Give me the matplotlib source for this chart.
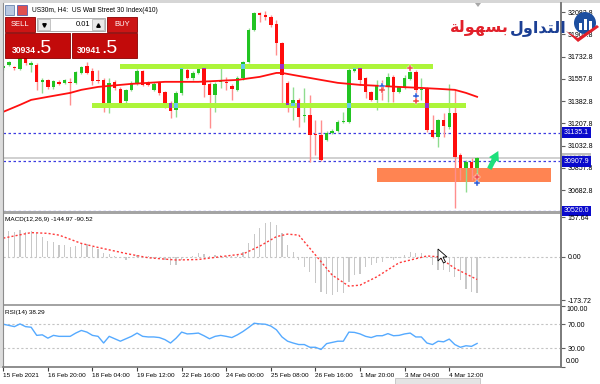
import numpy as np
import matplotlib
matplotlib.use('Agg')
import matplotlib.pyplot as plt
from matplotlib.patches import Rectangle, Circle, Polygon

plt.rcParams['font.family'] = ['Liberation Sans', 'DejaVu Sans']

# ---- price data (US30m, H4) ----
opens = [31645, 31667, 31651, 31635, 31725, 31665, 31670, 31535, 31550, 31490,
         31535, 31525, 31535, 31525, 31605, 31660, 31620, 31550, 31550, 31370,
         31535, 31480, 31380, 31470, 31525, 31620, 31525, 31470, 31525, 31455,
         31370, 31310, 31445, 31625, 31565, 31605, 31645, 31520, 31430, 31530,
         31535, 31500, 31470, 31565, 31690, 31942, 32075, 32060, 32045, 31990,
         31840, 31525, 31345, 31390, 31265, 31275, 31125, 31117, 31075, 31135,
         31150, 31215, 31220, 31620, 31645, 31565, 31455, 31392, 31505, 31495,
         31570, 31455, 31495, 31560, 31610, 31470, 31480, 31157, 31100, 31235,
         31180, 31290, 30955, 30860, 30905, 30860]
highs = [31670, 31700, 31660, 31730, 31740, 31700, 31680, 31565, 31560, 31550,
         31545, 31560, 31565, 31620, 31660, 31690, 31640, 31630, 31565, 31565,
         31550, 31490, 31480, 31540, 31635, 31630, 31540, 31530, 31540, 31465,
         31380, 31465, 31655, 31640, 31620, 31667, 31660, 31535, 31535, 31650,
         31575, 31520, 31580, 31700, 31955, 32085, 32083, 32090, 32060, 32020,
         31850, 31540, 31495, 31410, 31485, 31430, 31235, 31235, 31145, 31160,
         31235, 31300, 31640, 31670, 31660, 31575, 31465, 31550, 31550, 31605,
         31590, 31505, 31590, 31620, 31625, 31565, 31490, 31275, 31245, 31290,
         31520, 31470, 30975, 30920, 30935, 30945]
lows = [31630, 31660, 31630, 31625, 31670, 31610, 31470, 31445, 31480, 31480,
        31510, 31515, 31355, 31515, 31595, 31595, 31510, 31525, 31300, 31290,
        31470, 31360, 31370, 31460, 31510, 31500, 31500, 31460, 31430, 31330,
        31250, 31260, 31430, 31555, 31550, 31595, 31415, 31170, 31300, 31485,
        31470, 31390, 31460, 31550, 31680, 31930, 32005, 32020, 31965, 31745,
        31370, 31300, 31235, 31180, 31220, 30905, 30960, 30915, 31065, 31125,
        31140, 31210, 31210, 31610, 31510, 31410, 31380, 31315, 31390, 31375,
        31375, 31445, 31480, 31545, 31375, 31390, 31140, 31095, 31020, 31100,
        31160, 30545, 30765, 30670, 30765, 30725]
closes = [31655, 31690, 31643, 31720, 31680, 31680, 31535, 31550, 31495, 31540,
          31520, 31545, 31525, 31610, 31650, 31605, 31540, 31540, 31370, 31525,
          31485, 31370, 31470, 31525, 31620, 31510, 31510, 31520, 31445, 31370,
          31305, 31450, 31640, 31565, 31605, 31635, 31510, 31430, 31520, 31545,
          31525, 31480, 31565, 31690, 31942, 32075, 32060, 32045, 31980, 31840,
          31590, 31355, 31390, 31260, 31275, 31117, 31117, 30921, 31135, 31150,
          31220, 31225, 31628, 31645, 31550, 31455, 31392, 31500, 31475, 31570,
          31455, 31495, 31565, 31610, 31470, 31480, 31157, 31102, 31235, 31190,
          31290, 30945, 30860, 30905, 30860, 30934.5]

# moving average (red line), sampled at readable points
ma_bars = [0, 3, 5, 8, 12, 14, 17, 23, 29, 35, 42, 46, 49, 50, 52, 57, 60, 64,
           71, 75, 78, 81, 83, 85]
ma_vals = [31298, 31353, 31392, 31416, 31447, 31471, 31494, 31518, 31534, 31534,
           31549, 31573, 31604, 31604, 31588, 31549, 31526, 31510, 31494, 31486,
           31479, 31471, 31447, 31416]

price_ticks = [32082.8, 31907.8, 31732.8, 31557.8, 31382.8, 31207.8, 31032.8,
               30857.8, 30682.8]
blue_levels = [31135.1, 30907.9, 30520.0]
bid_price = 30934.5
ask_price = 30941.5

# support / resistance zones: (price low, price high, first bar, last bar)
zones = [(31633, 31673, 21.0, 77.1), (31332, 31371, 16.0, 83.0)]
orange_zone = (30746, 30858, 67.1, 98.2)

buy_bars = [68, 74, 85]
buy_prices = [31502, 31426, 30741]
sell_bars = [68, 73, 74, 85]
sell_prices = [31471, 31641, 31387, 30788]

# ---- MACD(12,26,9) ----
macd_hist = [74, 103, 100, 106, 100, 103, 93, 80, 64, 57, 46, 46, 37, 42, 51, 49,
             37, 29, 13, 9, 3, -4, -11, -3, 7, 3, 1, -4, -4, -13, -31, -31, -13,
             -4, 3, 16, 11, 3, 7, 7, 4, 4, 9, 17, 53, 90, 113, 133, 139, 126, 93,
             46, 20, -11, -42, -60, -103, -139, -148, -152, -139, -143, -99, -73,
             -69, -40, -33, -26, -20, -7, -11, -4, 7, 20, 16, 13, -7, -33, -53,
             -53, -60, -80, -93, -130, -140, -144.97]
sig_bars = [0, 5, 8, 10, 14, 17, 22, 26, 31, 35, 40, 43, 46, 49, 51, 53, 56, 59,
            62, 64, 67, 71, 76, 78, 81, 85]
sig_vals = [74, 96, 93, 86, 53, 37, 13, -4, -13, -11, 3, 11, 42, 80, 90, 86, 7,
            -73, -117, -113, -80, -24, 3, 0, -46, -90.52]

# ---- RSI(14) ----
rsi = [70, 68, 66, 70.5, 66, 65, 51.6, 52.5, 47, 51.6, 50, 50, 50, 55.4, 59.7, 57,
       51.6, 50, 39, 50, 46, 42, 46, 50, 55.4, 50, 49, 49, 48, 44.6, 39, 47, 57,
       54, 54.5, 55.4, 51, 46, 50, 51.6, 50, 48, 52.5, 58, 64.5, 71.6, 70.5, 70,
       67, 60.8, 49, 42, 39, 36.5, 36.5, 32, 32, 28.4, 38, 40, 42, 42, 57, 56.5,
       54, 50, 48, 51, 51, 54.5, 51, 51.6, 54, 55.4, 49, 49, 39, 36.5, 42, 41,
       45.5, 36.5, 32, 34.5, 33.5, 38.29]

time_labels = ['15 Feb 2021', '16 Feb 20:00', '18 Feb 04:00', '19 Feb 12:00',
               '22 Feb 16:00', '24 Feb 00:00', '25 Feb 08:00', '26 Feb 16:00',
               '1 Mar 20:00', '3 Mar 04:00', '4 Mar 12:00']

W, H = 600, 384
fig = plt.figure(figsize=(6, 3.84), dpi=100)
fig.patch.set_facecolor('white')


def px_axes(x0, y0, x1, y1, **kw):
    return fig.add_axes([x0 / W, 1 - y1 / H, (x1 - x0) / W, (y1 - y0) / H], **kw)


XLIM = (-0.05, 100.05)
FS = 5.0      # price scale labels
FS_T = 4.6    # time scale / indicator captions


def style_panel(a):
    a.set_xlim(*XLIM)
    for s in a.spines.values():
        s.set_visible(False)
    a.yaxis.tick_right()
    a.tick_params(axis='y', length=3, width=0.8, labelsize=FS, pad=1.8,
                  color='#606060', labelcolor='black')
    a.tick_params(axis='x', bottom=False, labelbottom=False)


# ================= main price panel =================
ax = px_axes(3, 3, 561, 211)
style_panel(ax)
ax.set_ylim(30518, 32154)

x = np.arange(len(opens))
o, h, l, c = (np.array(v, dtype=float) for v in (opens, highs, lows, closes))
up = c >= o
ax.vlines(x, l, h, colors=np.where(up, '#8FDC8F', '#FF8E8E'), lw=1, zorder=2)
body_lo = np.minimum(o, c)
body_h = np.maximum(np.abs(c - o), 8)
ax.bar(x, body_h, bottom=body_lo, width=0.62, lw=0, zorder=4,
       color=np.where(up, '#22C422', '#FF0C0C'))

for lo_z, hi_z, b0, b1 in zones:
    ax.add_patch(Rectangle((b0, lo_z), b1 - b0, hi_z - lo_z, fc='#ADF53A',
                           ec='none', zorder=3))
    for i in range(len(x)):
        if b0 <= i <= b1:
            a0 = max(body_lo[i], lo_z)
            a1 = min(body_lo[i] + body_h[i], hi_z)
            if a1 > a0:
                ax.bar(i, a1 - a0, bottom=a0, width=0.62, lw=0, zorder=5,
                       color='#62C8EC' if up[i] else '#9A2FC8')

lo_o, hi_o, b0, b1 = orange_zone
ax.add_patch(Rectangle((b0, lo_o), b1 - b0, hi_o - lo_o, fc='#FF8452', ec='none',
                       zorder=1))

ax.plot(ma_bars, ma_vals, color='#FF1010', lw=1.3, zorder=6)

ax.plot(buy_bars, buy_prices, ls='none', marker='P', ms=3.8, color='#2A5CD8',
        mec='white', mew=0.3, zorder=7)
ax.plot(sell_bars, sell_prices, ls='none', marker='P', ms=3.8, color='#F04848',
        mec='white', mew=0.3, zorder=7)

ax.annotate('', xy=(88.8, 30990), xytext=(87.2, 30850),
            arrowprops=dict(arrowstyle='simple,head_width=0.8,head_length=0.7,tail_width=0.35',
                            color='#1EE07C', lw=0, shrinkA=0, shrinkB=0), zorder=7)

ax.axhline(bid_price, color='#C4C4C4', lw=1.1, zorder=1)
for lv in blue_levels:
    ax.axhline(lv, color='#3C3CE0', lw=0.9, ls=(0, (2, 2)), zorder=1)

ax.set_yticks(price_ticks)
ax.set_yticklabels([f'{v:.1f}' for v in price_ticks])

ytr = ax.get_yaxis_transform()
ax.text(1.005, bid_price, f'{bid_price:.1f}', transform=ytr, fontsize=FS,
        color='white', va='center', ha='left', clip_on=False, zorder=10,
        bbox=dict(boxstyle='square,pad=0.25', fc='#BEBEBE', ec='none'))
for lv in blue_levels:
    ax.text(1.005, lv, f'{lv:.1f}', transform=ytr, fontsize=FS, color='white',
            va='center', ha='left', clip_on=False, zorder=11,
            bbox=dict(boxstyle='square,pad=0.25', fc='#0A0ACC', ec='none'))

# ================= MACD panel =================
ax2 = px_axes(3, 214, 561, 304)
style_panel(ax2)
ax2.set_ylim(-188, 170)
ax2.bar(x, macd_hist, width=0.22, color='#C8C8C8', lw=0, zorder=2)
ax2.axhline(0, color='#C4C4C4', lw=0.8, ls=(0, (2, 2)), zorder=1)
ax2.plot(sig_bars, sig_vals, color='#FF3A3A', lw=1.0, ls=(0, (1.5, 1.5)), zorder=3)
ax2.set_yticks([157.64, 0, -173.72])
ax2.set_yticklabels(['157.64', '0.00', '-173.72'])
ax2.text(0.004, 0.97, 'MACD(12,26,9) -144.97 -90.52', transform=ax2.transAxes,
         fontsize=FS_T, va='top', ha='left')

# ================= RSI panel =================
ax3 = px_axes(3, 306, 561, 367)
style_panel(ax3)
ax3.set_ylim(-0.5, 100)
ax3.axhline(70, color='#C4C4C4', lw=0.8, ls=(0, (2, 2)))
ax3.axhline(30, color='#C4C4C4', lw=0.8, ls=(0, (2, 2)))
ax3.plot(x, rsi, color='#55AAFF', lw=1.0)
ax3.set_yticks([100, 70, 30, 0])
ax3.set_yticklabels(['', '70.00', '30.00', ''])
ax3.text(1.009, 1.0, '100.00', transform=ax3.transAxes, fontsize=FS, va='top',
         ha='left', clip_on=False)
ax3.text(1.009, 0.03, '0.00', transform=ax3.transAxes, fontsize=FS, va='bottom',
         ha='left', clip_on=False)
ax3.text(0.004, 0.93, 'RSI(14) 38.29', transform=ax3.transAxes, fontsize=FS_T,
         va='top', ha='left')
ax3.set_xticks(np.arange(0, 81, 8))
ax3.set_xticklabels(time_labels, ha='left')
ax3.tick_params(axis='x', bottom=True, labelbottom=True, length=3, width=0.8,
                color='#404040', labelsize=FS_T, pad=1.5)

# ================= window chrome (pixel overlay) =================
ov = fig.add_axes([0, 0, 1, 1], zorder=20)
ov.set_xlim(0, W)
ov.set_ylim(H, 0)
ov.axis('off')
ov.patch.set_alpha(0)

ov.add_patch(Rectangle((0, 0), W, 3, fc='#D6D6D6', ec='none'))
ov.add_patch(Rectangle((0, 0), 3, 368, fc='#DCDCDC', ec='none'))
ov.plot([3, 3], [3, 367], color='#8C8C8C', lw=0.8)
ov.plot([561, 561], [3, 367], color='#7A7A7A', lw=1.4)
ov.plot([3, 561], [367, 367], color='#7A7A7A', lw=1.2)
ov.add_patch(Rectangle((3, 211.3), 558, 2.6, fc='#A4A4A4', ec='none'))
ov.add_patch(Rectangle((3, 304), 558, 2.2, fc='#A4A4A4', ec='none'))
ov.add_patch(Polygon([(475, 3), (481, 3), (478, 7)], closed=True, fc='#A8A8A8', ec='none'))
ov.add_patch(Rectangle((395, 378), 85, 6, fc='#E4E4E4', ec='#B8B8B8', lw=0.5))

# title line with small icons
ov.add_patch(Rectangle((5, 5), 9, 10, fc='#B8C8E0', ec='#5070A0', lw=0.5))
ov.add_patch(Rectangle((17, 5), 10, 10, fc='#E05050', ec='#3050B0', lw=0.5))
ov.text(32, 10.5, 'US30m, H4:  US Wall Street 30 Index(410)', fontsize=4.8,
        va='center', ha='left')

# one-click trading panel
red, dark = '#CC1515', '#8A0000'
ov.add_patch(Rectangle((5, 17), 30, 15, fc=red, ec=dark, lw=0.6))
ov.text(20, 24.5, 'SELL', fontsize=5.5, color='white', ha='center', va='center')
ov.add_patch(Rectangle((37, 18), 68, 13, fc='white', ec='#A0A0A0', lw=0.6))
ov.add_patch(Rectangle((38, 19), 12, 11, fc='#EAEAEA', ec='#B0B0B0', lw=0.5))
ov.add_patch(Rectangle((92, 19), 12, 11, fc='#EAEAEA', ec='#B0B0B0', lw=0.5))
ov.plot([44], [24.5], marker='v', ms=2.5, color='black')
ov.plot([98], [24.5], marker='^', ms=2.5, color='black')
ov.text(90, 24.5, '0.01', fontsize=5.5, ha='right', va='center')
ov.add_patch(Rectangle((107, 17), 30, 15, fc=red, ec=dark, lw=0.6))
ov.text(122, 24.5, 'BUY', fontsize=5.5, color='white', ha='center', va='center')
ov.add_patch(Rectangle((5, 33), 65, 25, fc='#C20A0A', ec=dark, lw=0.6))
ov.add_patch(Rectangle((72, 33), 65, 25, fc='#C20A0A', ec=dark, lw=0.6))
ov.text(12, 53, str(int(bid_price)), fontsize=6.2, color='white', ha='left',
        va='baseline', fontweight='bold')
ov.text(35, 53, '.' + f'{bid_price:.1f}'[-1], fontsize=14, color='white',
        ha='left', va='baseline')
ov.text(77, 53, str(int(ask_price)), fontsize=6.2, color='white', ha='left',
        va='baseline', fontweight='bold')
ov.text(101, 53, '.' + f'{ask_price:.1f}'[-1], fontsize=14, color='white',
        ha='left', va='baseline')

# logo (Arabic text pre-shaped with presentation forms, visual order)
word_blue = '\uFEDD\uFEED\uFE8D\uFEAA\uFE98\uFEDF\uFE8D'
word_red = '\uFE94\uFEDF\uFEEE\uFEEC\uFEB4\uFE91'
ov.text(567, 32, word_blue, fontsize=11.5, color='#1B3F94', ha='right',
        va='baseline', fontweight='bold', family='DejaVu Sans')
ov.text(509, 32, word_red, fontsize=11.5, color='#E2202A', ha='right',
        va='baseline', fontweight='bold', family='DejaVu Sans')
ov.add_patch(Circle((585, 23), 11, fc='#1D4FA0', ec='none'))
for bx, bh in [(579, 7), (584, 11), (589, 9)]:
    ov.add_patch(Rectangle((bx, 30 - bh), 3, bh, fc='white', ec='none'))
ov.add_patch(Polygon([(566, 31), (578, 42), (599, 27), (597, 25), (578, 38)],
                     closed=True, fc='#E2202A', ec='none'))

# mouse cursor in MACD pane
ov.add_patch(Polygon([(438, 249), (438, 261), (441, 258), (443.5, 263), (445.5, 262),
                      (443, 257), (447, 257)], closed=True, fc='white', ec='black',
                     lw=0.6))

fig.savefig('out.png', dpi=100, facecolor='white')
